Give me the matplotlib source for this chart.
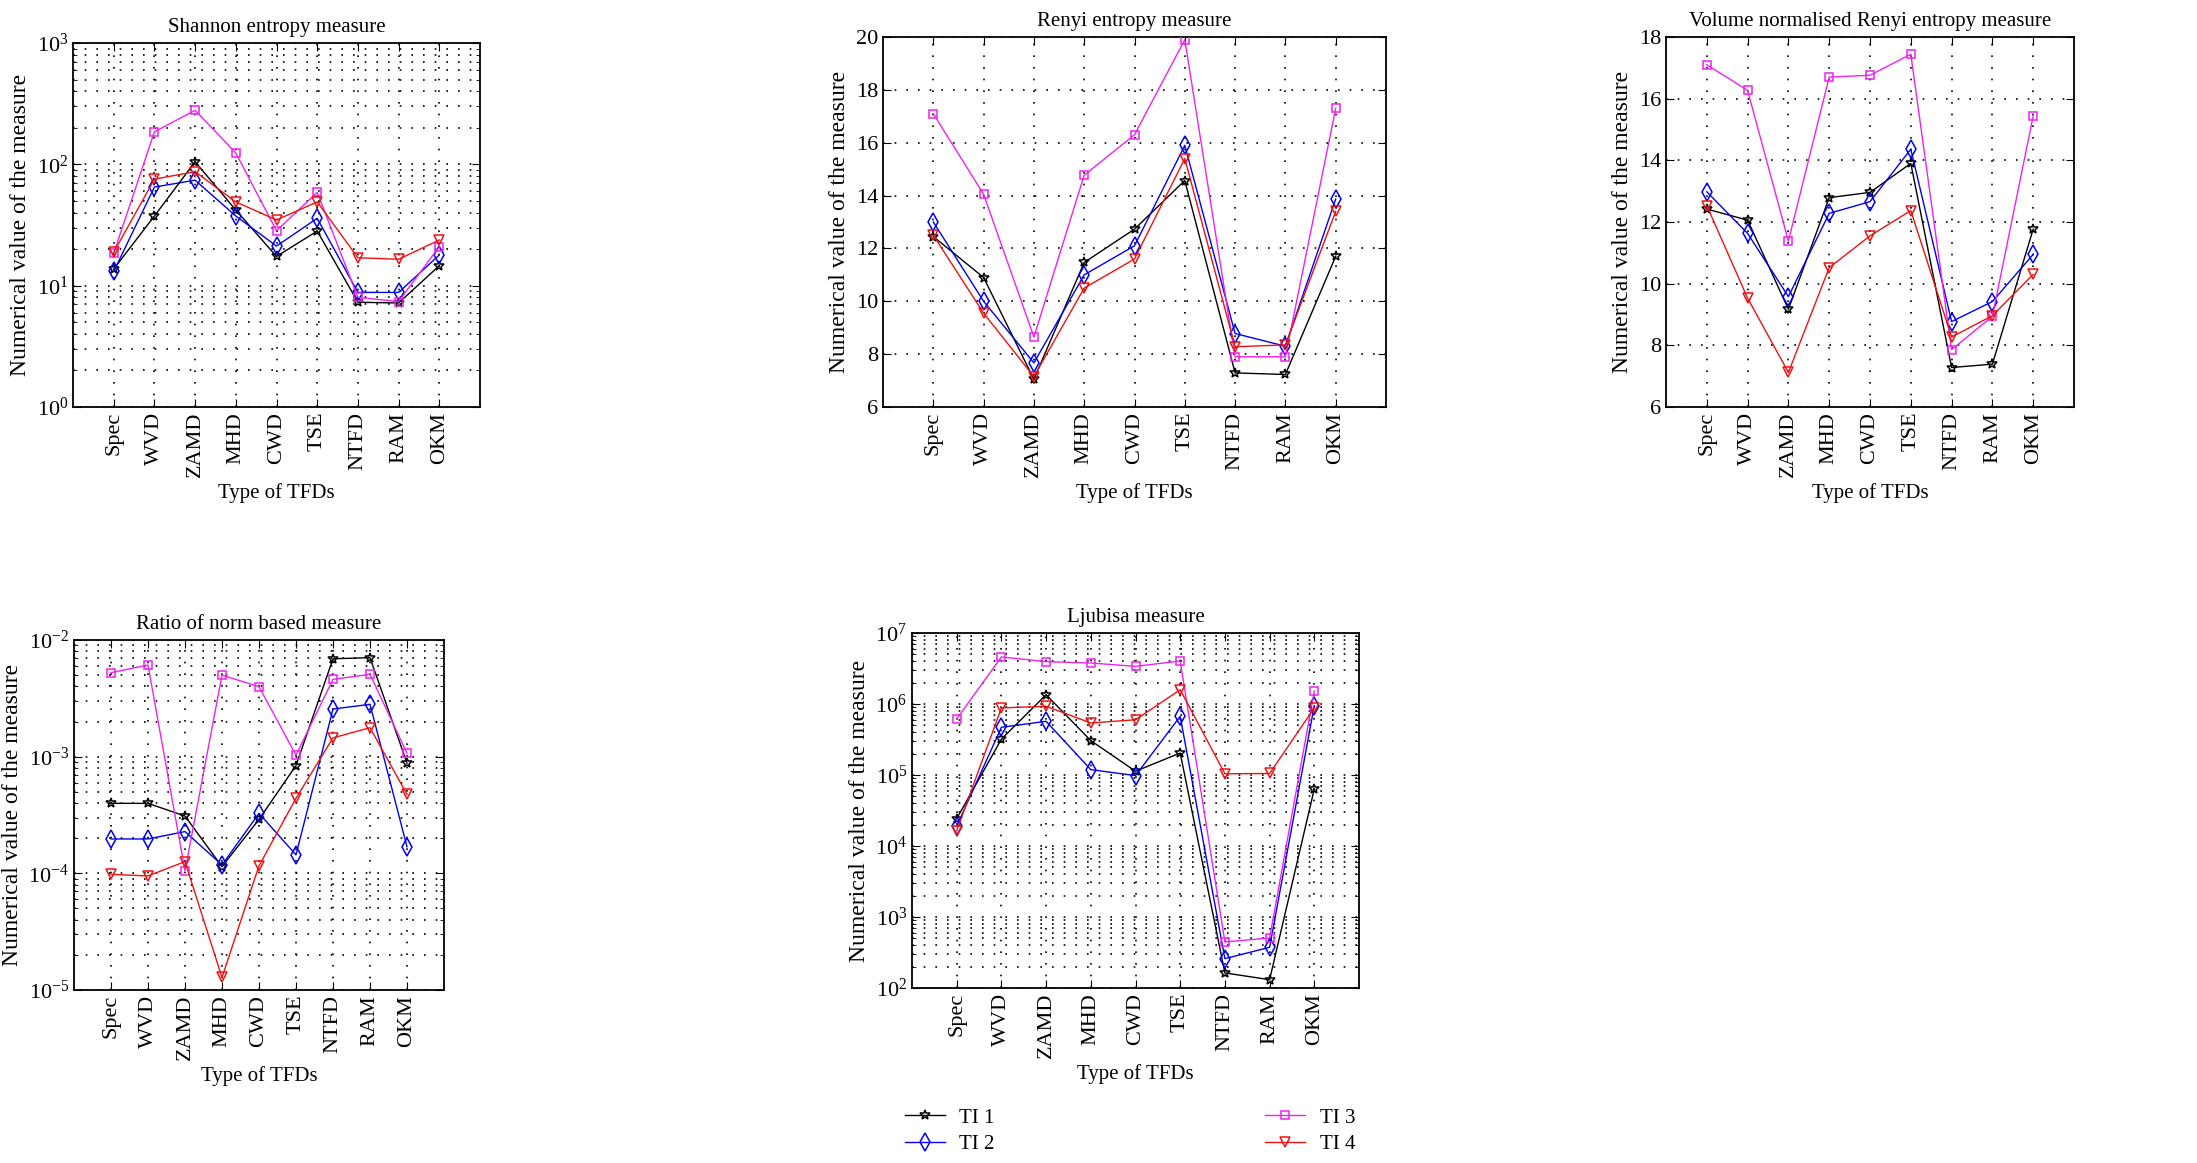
import numpy as np
import matplotlib
matplotlib.use("Agg")
import matplotlib.pyplot as plt
from matplotlib.ticker import LogLocator, NullFormatter

plt.rcParams['font.family'] = ['Liberation Serif', 'DejaVu Serif']
plt.rcParams['mathtext.fontset'] = 'stix'
plt.rcParams['font.size'] = 15

tfds = ['Spec', 'WVD', 'ZAMD', 'MHD', 'CWD', 'TSE', 'NTFD', 'RAM', 'OKM']
series_names = ['TI 1', 'TI 2', 'TI 3', 'TI 4']

# Shannon entropy measure
shannon_ti1 = [13.7, 37.5, 105, 42, 17.4, 28.2, 7.3, 7.2, 14.6]
shannon_ti2 = [13.1, 65, 74, 37.5, 21.2, 35.9, 8.8, 8.8, 17.9]
shannon_ti3 = [18.5, 185, 279, 124, 28.4, 58.7, 8.0, 7.4, 21]
shannon_ti4 = [18.8, 75.5, 87, 49, 34.8, 49, 17.0, 16.5, 23.8]

# Renyi entropy measure
renyi_ti1 = [12.45, 10.9, 7.05, 11.47, 12.73, 14.57, 7.29, 7.23, 11.7]
renyi_ti2 = [13.0, 10.0, 7.67, 11.0, 12.1, 15.9, 8.78, 8.3, 13.87]
renyi_ti3 = [17.1, 14.05, 8.65, 14.77, 16.3, 19.9, 7.9, 7.9, 17.3]
renyi_ti4 = [12.5, 9.55, 7.15, 10.5, 11.6, 15.4, 8.28, 8.35, 13.4]

# Volume normalised Renyi entropy measure
vnr_ti1 = [12.42, 12.06, 9.17, 12.79, 12.96, 13.9, 7.28, 7.39, 11.77]
vnr_ti2 = [12.98, 11.63, 9.58, 12.28, 12.66, 14.36, 8.77, 9.42, 10.95]
vnr_ti3 = [17.1, 16.27, 11.38, 16.7, 16.76, 17.44, 7.86, 8.94, 15.44]
vnr_ti4 = [12.53, 9.53, 7.12, 10.52, 11.55, 12.37, 8.27, 8.96, 10.3]

# Ratio of norm based measure
ratio_ti1 = [3.98e-4, 3.98e-4, 3.1e-4, 1.14e-4, 2.9e-4, 8.4e-4, 6.9e-3, 7.06e-3, 8.8e-4]
ratio_ti2 = [1.97e-4, 1.97e-4, 2.28e-4, 1.18e-4, 3.27e-4, 1.44e-4, 2.56e-3, 2.81e-3, 1.69e-4]
ratio_ti3 = [5.25e-3, 6.1e-3, 1.05e-4, 5.0e-3, 3.98e-3, 1.03e-3, 4.6e-3, 5.08e-3, 1.07e-3]
ratio_ti4 = [9.8e-5, 9.5e-5, 1.26e-4, 1.28e-5, 1.16e-4, 4.4e-4, 1.45e-3, 1.77e-3, 4.75e-4]

# Ljubisa measure
ljubisa_ti1 = [2.43e4, 3.2e5, 1.35e6, 3.05e5, 1.13e5, 2.04e5, 163, 131, 6.35e4]
ljubisa_ti2 = [1.9e4, 4.7e5, 5.7e5, 1.19e5, 9.8e4, 6.7e5, 259, 374, 9.5e5]
ljubisa_ti3 = [6.15e5, 4.6e6, 3.95e6, 3.78e6, 3.39e6, 4.03e6, 445, 506, 1.52e6]
ljubisa_ti4 = [1.64e4, 8.8e5, 9.3e5, 5.4e5, 6.0e5, 1.59e6, 1.04e5, 1.05e5, 8.8e5]

styles = [
    dict(color='black', marker='*', markersize=7),
    dict(color='#0000ee', marker='d', markersize=9),
    dict(color='#ee22ee', marker='s', markersize=6),
    dict(color='#ee1111', marker='v', markersize=7),
]

panels = [
    ('Shannon entropy measure', [shannon_ti1, shannon_ti2, shannon_ti3, shannon_ti4],
     'log', (1, 1e3), [73, 43, 480, 407]),
    ('Renyi entropy measure', [renyi_ti1, renyi_ti2, renyi_ti3, renyi_ti4],
     'linear', (6, 20), [883, 37, 1386, 407]),
    ('Volume normalised Renyi entropy measure', [vnr_ti1, vnr_ti2, vnr_ti3, vnr_ti4],
     'linear', (6, 18), [1666, 37, 2074, 407]),
    ('Ratio of norm based measure', [ratio_ti1, ratio_ti2, ratio_ti3, ratio_ti4],
     'log', (1e-5, 1e-2), [74, 640, 444, 990]),
    ('Ljubisa measure', [ljubisa_ti1, ljubisa_ti2, ljubisa_ti3, ljubisa_ti4],
     'log', (1e2, 1e7), [912, 633, 1359, 988]),
]

W, H = 2197, 1163
fig = plt.figure(figsize=(W / 100, H / 100), dpi=100)

# matlab-like sparse dotted grid
grid_kw = dict(linestyle=(0, (1, 6)), color='black', linewidth=1.2)

x = np.arange(1, len(tfds) + 1)
handles = []
for title, data, scale, ylim, (l, t, r, b) in panels:
    ax = fig.add_axes([l / W, 1 - b / H, (r - l) / W, (b - t) / H])
    for vals, st, name in zip(data, styles, series_names):
        h, = ax.plot(x, vals, linewidth=1.0, markerfacecolor='none',
                     markeredgewidth=1.1, label=name, zorder=3, **st)
        if len(handles) < 4:
            handles.append(h)
    ax.set_yscale(scale)
    ax.set_ylim(*ylim)
    ax.set_xlim(0, 10)
    ax.set_xticks(x)
    ax.set_xticklabels(tfds, rotation=90)
    if scale == 'log':
        ax.yaxis.set_major_locator(LogLocator(base=10, numticks=10))
        ax.yaxis.set_minor_locator(LogLocator(base=10, subs=np.arange(2, 10), numticks=100))
        ax.yaxis.set_minor_formatter(NullFormatter())
        ax.grid(True, which='minor', axis='y', **grid_kw)
    ax.grid(True, which='major', **grid_kw)
    ax.tick_params(which='both', direction='in', top=True, right=True)
    ax.tick_params(which='major', length=6, labelsize=16)
    ax.tick_params(which='minor', length=3)
    for sp in ax.spines.values():
        sp.set_linewidth(1.3)
    ax.set_title(title, fontsize=15, pad=8)
    ax.set_ylabel('Numerical value of the measure', fontsize=17)
    ax.set_xlabel('Type of TFDs', fontsize=15)

fig.legend(handles, series_names, loc='upper left', ncol=2,
           bbox_to_anchor=(905 / W, 1 - 1108 / H), frameon=False,
           borderpad=0, borderaxespad=0, handlelength=1.9, handletextpad=0.7,
           columnspacing=13, labelspacing=0.35, fontsize=15)

fig.savefig('out.png', dpi=100)
